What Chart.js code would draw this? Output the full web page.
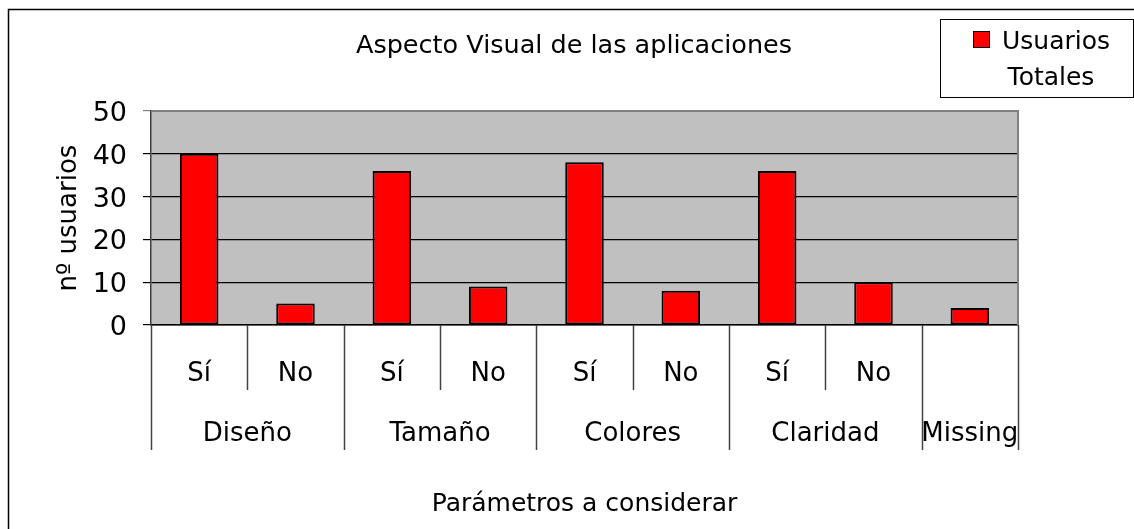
<!DOCTYPE html>
<html>
<head>
<meta charset="utf-8">
<script src="https://cdn.jsdelivr.net/npm/chart.js@4.4.1/dist/chart.umd.min.js"></script>
<style>
    html, body { margin: 0; padding: 0; background: #ffffff; }
    canvas { display: block; }
</style>
</head>
<body>
<canvas id="chart" width="1134" height="529"></canvas>
<script>
const chartTitle = 'Aspecto Visual de las aplicaciones';
const groups = ['Diseño', 'Tamaño', 'Colores', 'Claridad', 'Missing'];
const groupSpans = [2, 2, 2, 2, 1];
const answers = ['Sí', 'No', 'Sí', 'No', 'Sí', 'No', 'Sí', 'No', ''];
const usuarios = [40, 5, 36, 9, 38, 8, 36, 10, 4];
const yTicks = [0, 10, 20, 30, 40, 50];

const FONT = '"DejaVu Sans", Verdana, sans-serif';

const frame = {
    id: 'frame',
    beforeDraw(chart) {
        const { ctx, chartArea: a } = chart;
        ctx.save();
        ctx.fillStyle = '#ffffff';
        ctx.fillRect(0, 0, chart.width, chart.height);
        ctx.fillStyle = '#c0c0c0';
        ctx.fillRect(a.left, a.top, a.right - a.left, a.bottom - a.top);
        ctx.restore();
    },
    afterDraw(chart) {
        const { ctx, chartArea: a } = chart;
        const x = chart.scales.x;
        const step = (a.right - a.left) / answers.length;
        ctx.save();

        // outer border of the whole chart
        ctx.strokeStyle = '#000000';
        ctx.lineWidth = 1.5;
        ctx.strokeRect(8.5, 9.5, chart.width + 20, chart.height + 20);

        // plot area border, top and right
        ctx.strokeStyle = '#808080';
        ctx.lineWidth = 2;
        ctx.beginPath();
        ctx.moveTo(a.left, a.top);
        ctx.lineTo(a.right, a.top);
        ctx.lineTo(a.right, a.bottom);
        ctx.stroke();

        // category dividers under the axis
        ctx.strokeStyle = '#404040';
        ctx.lineWidth = 1.5;
        let boundaries = [0];
        groupSpans.reduce((acc, n) => { boundaries.push(acc + n); return acc + n; }, 0);
        for (let k = 0; k <= answers.length; k++) {
            const px = Math.round(a.left + k * step) + 0.5;
            const long = boundaries.includes(k);
            ctx.beginPath();
            ctx.moveTo(px, a.bottom);
            ctx.lineTo(px, long ? a.bottom + 125 : a.bottom + 65);
            ctx.stroke();
        }

        // group labels
        ctx.fillStyle = '#000000';
        ctx.font = '26px ' + FONT;
        ctx.textAlign = 'center';
        ctx.textBaseline = 'middle';
        let start = 0;
        groups.forEach((g, i) => {
            const end = start + groupSpans[i] - 1;
            const cx = (x.getPixelForValue(start) + x.getPixelForValue(end)) / 2;
            ctx.fillText(g, cx, a.bottom + 109);
            start = end + 1;
        });

        // title
        ctx.font = '25.5px ' + FONT;
        ctx.fillText(chartTitle, 574, 46);

        // legend
        const ds = chart.data.datasets[0];
        ctx.fillStyle = '#ffffff';
        ctx.fillRect(940, 19, 193, 78);
        ctx.strokeStyle = '#000000';
        ctx.lineWidth = 1;
        ctx.strokeRect(940.5, 19.5, 193, 78);
        ctx.fillStyle = ds.backgroundColor;
        ctx.fillRect(973, 31, 16, 16);
        ctx.strokeRect(973.5, 31.5, 16, 16);
        ctx.fillStyle = '#000000';
        ctx.font = '25px ' + FONT;
        ctx.textAlign = 'left';
        ctx.fillText(ds.label[0], 1002, 42);
        ctx.textAlign = 'center';
        ctx.fillText(ds.label[1], 1051, 78);

        ctx.restore();
    }
};

new Chart(document.getElementById('chart'), {
    type: 'bar',
    data: {
        labels: answers,
        datasets: [{
            label: ['Usuarios', 'Totales'],
            data: usuarios,
            backgroundColor: '#ff0000',
            borderColor: '#000000',
            borderWidth: 2,
            borderSkipped: false,
            categoryPercentage: 1,
            barPercentage: 0.4
        }]
    },
    options: {
        responsive: false,
        animation: false,
        devicePixelRatio: 1,
        layout: {
            padding: { left: 0, top: 111, right: 116, bottom: 0 }
        },
        plugins: {
            legend: { display: false },
            title: { display: false },
            tooltip: { enabled: false }
        },
        scales: {
            x: {
                afterFit: (scale) => { scale.height = 204; },
                grid: { display: false, drawTicks: false },
                border: { display: true, color: '#000000', width: 1.5 },
                ticks: {
                    color: '#000000',
                    font: { family: FONT, size: 26 },
                    padding: 34,
                    maxRotation: 0,
                    autoSkip: false
                },
                title: {
                    display: true,
                    text: 'Parámetros a considerar',
                    color: '#000000',
                    font: { family: FONT, size: 25 },
                    padding: { top: 0, bottom: 10 }
                }
            },
            y: {
                min: 0,
                max: 50,
                afterFit: (scale) => { scale.width = 151; },
                afterBuildTicks: (scale) => { scale.ticks = yTicks.map((v) => ({ value: v })); },
                grid: {
                    color: (c) => c.tick && c.tick.value === 50 ? '#808080' : '#000000',
                    lineWidth: 1.2,
                    tickLength: 8
                },
                border: { display: true, color: '#404040', width: 1.5 },
                ticks: {
                    color: '#000000',
                    font: { family: FONT, size: 27 },
                    padding: 16,
                    labelOffset: 3
                },
                title: {
                    display: true,
                    text: 'nº usuarios',
                    color: '#000000',
                    font: { family: FONT, size: 26 },
                    padding: { top: 54, bottom: 0 }
                }
            }
        }
    },
    plugins: [frame]
});
</script>
</body>
</html>
